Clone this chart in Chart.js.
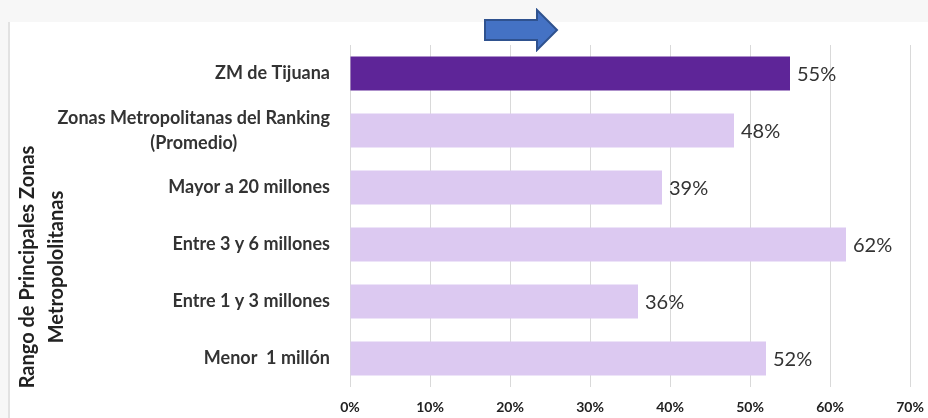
<!DOCTYPE html>
<html lang="es">
<head>
    <meta charset="UTF-8">
    <title>Rango de Principales Zonas Metropolitanas</title>
    <script src="https://cdn.jsdelivr.net/npm/chart.js"></script>
    <style>
        body {
            margin: 0;
            background-color: #f7f7f7;
            font-family: 'Lato', sans-serif;
        }

        .wrap {
            position: relative;
            width: 928px;
            height: 418px;
            overflow: hidden;
        }

        .frame {
            position: absolute;
            left: 8px;
            top: 22px;
            right: 0;
            bottom: 0;
            background-color: #fff;
            border-left: 2px solid #e2e2e2;
        }

        .arrow {
            position: absolute;
            left: 482px;
            top: 8px;
        }

        canvas {
            position: absolute;
            left: 0;
            top: 0;
        }
    </style>
</head>
<body>
    <div class="wrap">
        <div class="frame"></div>
        <canvas id="zonasChart" width="928" height="418"></canvas>
        <svg class="arrow" width="80" height="44" viewBox="0 0 80 44">
            <polygon points="3,12 55,12 55,2 75,22 55,42 55,32 3,32"
                     fill="#4472c4" stroke="#2f528f" stroke-width="2"/>
        </svg>
    </div>

    <script>
        // Categories, top to bottom
        const categorias = [
            'ZM de Tijuana',
            ['Zonas Metropolitanas del Ranking', '(Promedio)'],
            'Mayor a 20 millones',
            'Entre 3 y 6 millones',
            'Entre 1 y 3 millones',
            'Menor  1 millón'
        ];
        const porcentajes = [55, 48, 39, 62, 36, 52];
        const colores = ['#5e2598', '#dcc9f1', '#dcc9f1', '#dcc9f1', '#dcc9f1', '#dcc9f1'];
        const tituloEje = ['Rango de Principales Zonas', 'Metropololitanas'];

        // Category names right-aligned against the plot, multi-line labels centred on their widest line
        const categoryLabels = {
            id: 'categoryLabels',
            afterDraw(chart) {
                const ctx = chart.ctx;
                const y = chart.scales.y;
                const right = chart.chartArea.left - 20;
                ctx.save();
                ctx.font = 'bold 18px Lato';
                ctx.fillStyle = '#333';
                ctx.textBaseline = 'middle';
                ctx.textAlign = 'center';
                categorias.forEach((cat, i) => {
                    const lines = Array.isArray(cat) ? cat : [cat];
                    const widest = Math.max(...lines.map(l => ctx.measureText(l).width));
                    const center = right - widest / 2;
                    const yc = y.getPixelForValue(i);
                    const lh = 25;
                    lines.forEach((l, k) => {
                        ctx.fillText(l, center, yc + (k - (lines.length - 1) / 2) * lh);
                    });
                });

                // rotated axis title
                ctx.font = 'bold 20px Lato';
                ctx.fillStyle = '#222';
                ctx.translate(0, 267);
                ctx.rotate(-Math.PI / 2);
                ctx.fillText(tituloEje[0], 0, 28);
                ctx.fillText(tituloEje[1], 0, 57);
                ctx.restore();
            }
        };

        // Value labels to the right of each bar
        const valueLabels = {
            id: 'valueLabels',
            afterDatasetsDraw(chart) {
                const ctx = chart.ctx;
                const meta = chart.getDatasetMeta(0);
                ctx.save();
                ctx.font = '20px Lato';
                ctx.fillStyle = '#333';
                ctx.textAlign = 'left';
                ctx.textBaseline = 'middle';
                meta.data.forEach((bar, i) => {
                    ctx.fillText(porcentajes[i] + '%', bar.x + 7, bar.y + 1);
                });
                ctx.restore();
            }
        };

        new Chart(document.getElementById('zonasChart'), {
            type: 'bar',
            data: {
                labels: categorias,
                datasets: [{
                    data: porcentajes,
                    backgroundColor: colores,
                    categoryPercentage: 1,
                    barPercentage: 0.6
                }]
            },
            options: {
                indexAxis: 'y',
                responsive: false,
                animation: false,
                layout: {
                    padding: { left: 350, top: 45, right: 18, bottom: 0 }
                },
                scales: {
                    x: {
                        min: 0,
                        max: 70,
                        ticks: {
                            stepSize: 10,
                            padding: 12,
                            color: '#222',
                            font: { family: 'Lato', size: 14, weight: 'bold' },
                            callback: v => v + '%'
                        },
                        grid: { color: '#d9d9d9', drawTicks: false },
                        border: { display: false },
                        afterFit: s => {
                            s.height = 31;
                            s.paddingLeft = 0;
                            s.paddingRight = 0;
                        }
                    },
                    y: {
                        ticks: { display: false },
                        grid: { display: false },
                        border: { display: false },
                        afterFit: s => { s.width = 0; }
                    }
                },
                plugins: {
                    legend: { display: false },
                    tooltip: { enabled: false }
                }
            },
            plugins: [categoryLabels, valueLabels]
        });
    </script>
</body>
</html>
